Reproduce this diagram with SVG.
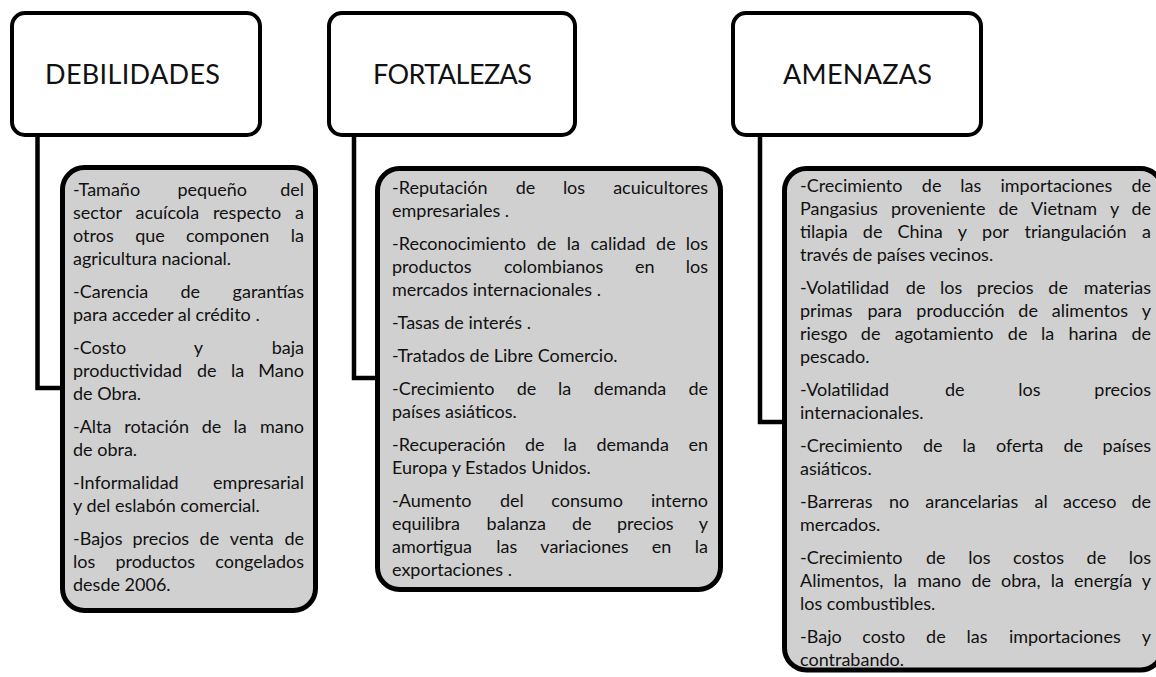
<svg xmlns="http://www.w3.org/2000/svg" width="1156" height="677" viewBox="0 0 1156 677">
<style>
.hdr{fill:#fff;stroke:#000;stroke-width:4}
.box{fill:#d0d0d0;stroke:#000;stroke-width:5}
.conn{fill:none;stroke:#000;stroke-width:4.5;stroke-linejoin:miter}
.h{font-family:Lato,"Open Sans","Liberation Sans",sans-serif;font-size:27px;fill:#111;text-anchor:middle}
.t{font-family:Lato,"Open Sans","Liberation Sans",sans-serif;font-size:18px;fill:#111}
.m{text-anchor:middle}
.e{text-anchor:end}
</style>
<rect width="1156" height="677" fill="#fff"/>
<g id="connectors">
<path class="conn" d="M37.5,137 V388 H62"/>
<path class="conn" d="M354,137 V378 H377"/>
<path class="conn" d="M760,137 V422 H784"/>
</g>
<g id="debilidades">
<rect class="hdr" x="12" y="13" width="248" height="122" rx="13"/>
<text class="h" x="132.5" y="84" textLength="175" lengthAdjust="spacing">DEBILIDADES</text>
</g>
<g id="fortalezas">
<rect class="hdr" x="329" y="13" width="246" height="122" rx="13"/>
<text class="h" x="452.5" y="84" textLength="159" lengthAdjust="spacing">FORTALEZAS</text>
</g>
<g id="amenazas">
<rect class="hdr" x="733" y="13" width="248" height="122" rx="13"/>
<text class="h" x="857.5" y="84" textLength="149" lengthAdjust="spacing">AMENAZAS</text>
</g>
<g id="debilidades-lista">
<rect class="box" x="62.5" y="167.5" width="253" height="443" rx="22"/>
<text class="t" y="196"><tspan x="73">-Tamaño</tspan><tspan x="212.2" class="m">pequeño</tspan><tspan x="304" class="e">del</tspan></text>
<text class="t" y="219"><tspan x="73">sector</tspan><tspan x="167.4" class="m">acuícola</tspan><tspan x="247.1" class="m">respecto</tspan><tspan x="304" class="e">a</tspan></text>
<text class="t" y="242"><tspan x="73">otros</tspan><tspan x="150" class="m">que</tspan><tspan x="227.6" class="m">componen</tspan><tspan x="304" class="e">la</tspan></text>
<text class="t" x="73" y="265">agricultura nacional.</text>
<text class="t" y="298"><tspan x="73">-Carencia</tspan><tspan x="190.2" class="m">de</tspan><tspan x="304" class="e">garantías</tspan></text>
<text class="t" x="73" y="321">para acceder al crédito .</text>
<text class="t" y="354"><tspan x="73">-Costo</tspan><tspan x="198.4" class="m">y</tspan><tspan x="304" class="e">baja</tspan></text>
<text class="t" y="377"><tspan x="73">productividad</tspan><tspan x="206.7" class="m">de</tspan><tspan x="237.6" class="m">la</tspan><tspan x="304" class="e">Mano</tspan></text>
<text class="t" x="73" y="400">de Obra.</text>
<text class="t" y="433"><tspan x="73">-Alta</tspan><tspan x="156.7" class="m">rotación</tspan><tspan x="211.5" class="m">de</tspan><tspan x="240.1" class="m">la</tspan><tspan x="304" class="e">mano</tspan></text>
<text class="t" x="73" y="456">de obra.</text>
<text class="t" y="489"><tspan x="73">-Informalidad</tspan><tspan x="304" class="e">empresarial</tspan></text>
<text class="t" x="73" y="512">y del eslabón comercial.</text>
<text class="t" y="545"><tspan x="73">-Bajos</tspan><tspan x="160.8" class="m">precios</tspan><tspan x="209.4" class="m">de</tspan><tspan x="251.8" class="m">venta</tspan><tspan x="304" class="e">de</tspan></text>
<text class="t" y="568"><tspan x="73">los</tspan><tspan x="155.2" class="m">productos</tspan><tspan x="304" class="e">congelados</tspan></text>
<text class="t" x="73" y="591">desde 2006.</text>
</g>
<g id="fortalezas-lista">
<rect class="box" x="377.5" y="168.5" width="343" height="421" rx="22"/>
<text class="t" y="194"><tspan x="392">-Reputación</tspan><tspan x="525.5" class="m">de</tspan><tspan x="574" class="m">los</tspan><tspan x="708" class="e">acuicultores</tspan></text>
<text class="t" x="392" y="217">empresariales .</text>
<text class="t" y="250"><tspan x="392">-Reconocimiento</tspan><tspan x="546.5" class="m">de</tspan><tspan x="573.3" class="m">la</tspan><tspan x="618.1" class="m">calidad</tspan><tspan x="665.9" class="m">de</tspan><tspan x="708" class="e">los</tspan></text>
<text class="t" y="273"><tspan x="392">productos</tspan><tspan x="553.6" class="m">colombianos</tspan><tspan x="644.8" class="m">en</tspan><tspan x="708" class="e">los</tspan></text>
<text class="t" x="392" y="296">mercados internacionales .</text>
<text class="t" x="392" y="329">-Tasas de interés .</text>
<text class="t" x="392" y="362">-Tratados de Libre Comercio.</text>
<text class="t" y="395"><tspan x="392">-Crecimiento</tspan><tspan x="526.5" class="m">de</tspan><tspan x="564.7" class="m">la</tspan><tspan x="630" class="m">demanda</tspan><tspan x="708" class="e">de</tspan></text>
<text class="t" x="392" y="418">países asiáticos.</text>
<text class="t" y="451"><tspan x="392">-Recuperación</tspan><tspan x="534.7" class="m">de</tspan><tspan x="570.2" class="m">la</tspan><tspan x="632.7" class="m">demanda</tspan><tspan x="708" class="e">en</tspan></text>
<text class="t" x="392" y="474">Europa y Estados Unidos.</text>
<text class="t" y="507"><tspan x="392">-Aumento</tspan><tspan x="511.8" class="m">del</tspan><tspan x="587.1" class="m">consumo</tspan><tspan x="708" class="e">interno</tspan></text>
<text class="t" y="530"><tspan x="392">equilibra</tspan><tspan x="516.3" class="m">balanza</tspan><tspan x="581.7" class="m">de</tspan><tspan x="645.3" class="m">precios</tspan><tspan x="708" class="e">y</tspan></text>
<text class="t" y="553"><tspan x="392">amortigua</tspan><tspan x="506.7" class="m">las</tspan><tspan x="584.5" class="m">variaciones</tspan><tspan x="661.6" class="m">en</tspan><tspan x="708" class="e">la</tspan></text>
<text class="t" x="392" y="576">exportaciones .</text>
</g>
<g id="amenazas-lista">
<rect class="box" x="784.5" y="168.5" width="378" height="501.5" rx="22"/>
<text class="t" y="192"><tspan x="800">-Crecimiento</tspan><tspan x="931.6" class="m">de</tspan><tspan x="970.8" class="m">las</tspan><tspan x="1056.4" class="m">importaciones</tspan><tspan x="1151" class="e">de</tspan></text>
<text class="t" y="215"><tspan x="800">Pangasius</tspan><tspan x="938.2" class="m">proveniente</tspan><tspan x="1008.2" class="m">de</tspan><tspan x="1064" class="m">Vietnam</tspan><tspan x="1114.6" class="m">y</tspan><tspan x="1151" class="e">de</tspan></text>
<text class="t" y="238"><tspan x="800">tilapia</tspan><tspan x="872.6" class="m">de</tspan><tspan x="920.1" class="m">China</tspan><tspan x="962.4" class="m">y</tspan><tspan x="995.5" class="m">por</tspan><tspan x="1075.5" class="m">triangulación</tspan><tspan x="1151" class="e">a</tspan></text>
<text class="t" x="800" y="261">través de países vecinos.</text>
<text class="t" y="294"><tspan x="800">-Volatilidad</tspan><tspan x="915.6" class="m">de</tspan><tspan x="951.1" class="m">los</tspan><tspan x="1005.2" class="m">precios</tspan><tspan x="1058.1" class="m">de</tspan><tspan x="1151" class="e">materias</tspan></text>
<text class="t" y="317"><tspan x="800">primas</tspan><tspan x="884.7" class="m">para</tspan><tspan x="960.4" class="m">producción</tspan><tspan x="1028.1" class="m">de</tspan><tspan x="1089.9" class="m">alimentos</tspan><tspan x="1151" class="e">y</tspan></text>
<text class="t" y="340"><tspan x="800">riesgo</tspan><tspan x="870.6" class="m">de</tspan><tspan x="944.1" class="m">agotamiento</tspan><tspan x="1017.6" class="m">de</tspan><tspan x="1047.7" class="m">la</tspan><tspan x="1093" class="m">harina</tspan><tspan x="1151" class="e">de</tspan></text>
<text class="t" x="800" y="363">pescado.</text>
<text class="t" y="396"><tspan x="800">-Volatilidad</tspan><tspan x="954.8" class="m">de</tspan><tspan x="1029.4" class="m">los</tspan><tspan x="1151" class="e">precios</tspan></text>
<text class="t" x="800" y="419">internacionales.</text>
<text class="t" y="452"><tspan x="800">-Crecimiento</tspan><tspan x="932.7" class="m">de</tspan><tspan x="969.1" class="m">la</tspan><tspan x="1019.7" class="m">oferta</tspan><tspan x="1073.3" class="m">de</tspan><tspan x="1151" class="e">países</tspan></text>
<text class="t" x="800" y="475">asiáticos.</text>
<text class="t" y="508"><tspan x="800">-Barreras</tspan><tspan x="899.1" class="m">no</tspan><tspan x="971.8" class="m">arancelarias</tspan><tspan x="1041.1" class="m">al</tspan><tspan x="1089.7" class="m">acceso</tspan><tspan x="1151" class="e">de</tspan></text>
<text class="t" x="800" y="531">mercados.</text>
<text class="t" y="564"><tspan x="800">-Crecimiento</tspan><tspan x="935.7" class="m">de</tspan><tspan x="979.4" class="m">los</tspan><tspan x="1038.5" class="m">costos</tspan><tspan x="1096.4" class="m">de</tspan><tspan x="1151" class="e">los</tspan></text>
<text class="t" y="587"><tspan x="800">Alimentos,</tspan><tspan x="900.2" class="m">la</tspan><tspan x="939.2" class="m">mano</tspan><tspan x="981.2" class="m">de</tspan><tspan x="1020.8" class="m">obra,</tspan><tspan x="1057.4" class="m">la</tspan><tspan x="1103.1" class="m">energía</tspan><tspan x="1151" class="e">y</tspan></text>
<text class="t" x="800" y="610">los combustibles.</text>
<text class="t" y="643"><tspan x="800">-Bajo</tspan><tspan x="883.8" class="m">costo</tspan><tspan x="935.9" class="m">de</tspan><tspan x="977.1" class="m">las</tspan><tspan x="1064.8" class="m">importaciones</tspan><tspan x="1151" class="e">y</tspan></text>
<text class="t" x="800" y="666">contrabando.</text>
</g>
</svg>
